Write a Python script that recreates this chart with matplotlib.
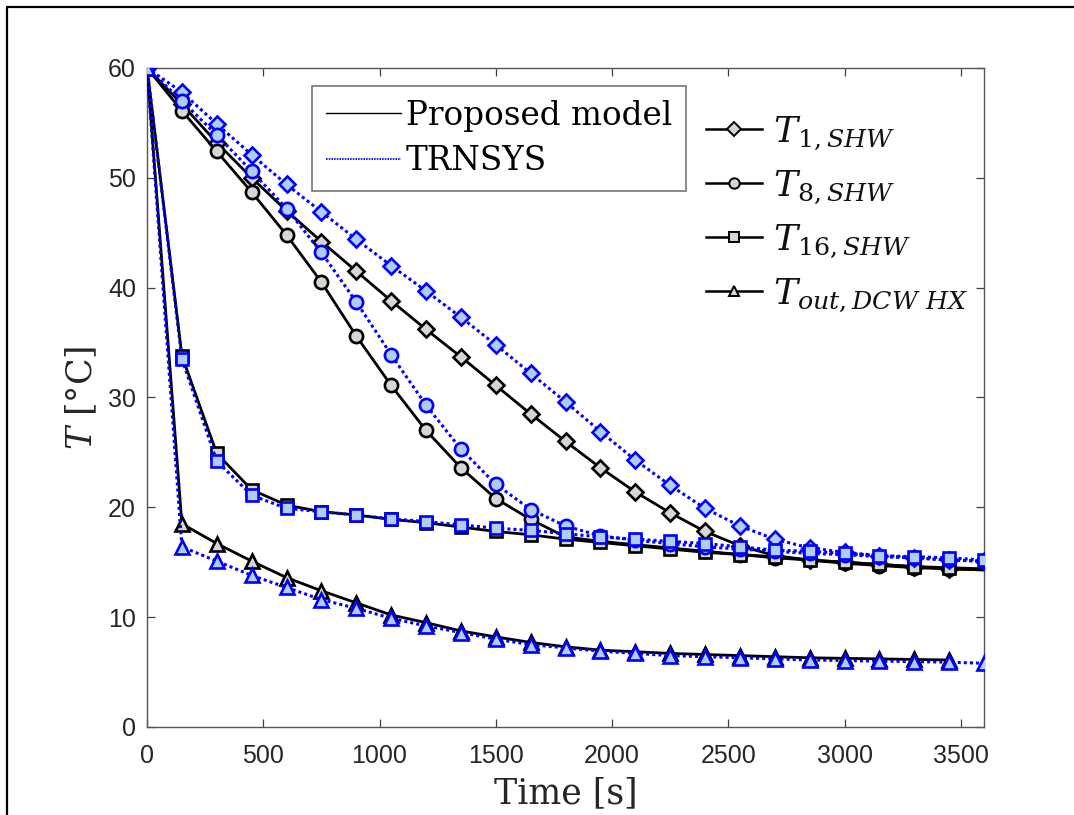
import numpy as np
import matplotlib
matplotlib.use("Agg")
import matplotlib.pyplot as plt
from matplotlib.lines import Line2D

plt.rcParams["mathtext.fontset"] = "custom"
plt.rcParams["mathtext.it"] = "DejaVu Serif:italic"
plt.rcParams["mathtext.rm"] = "DejaVu Serif"
plt.rcParams["mathtext.default"] = "it"

# Time axis [s]
time_s = np.arange(0, 3601, 150)

# Proposed model
t1_model = [60, 56.7, 53.2, 50.0, 47.0, 44.2, 41.5, 38.8, 36.2, 33.7, 31.1, 28.5, 26.0,
            23.6, 21.4, 19.5, 17.8, 16.5, 15.6, 15.2, 15.0, 14.8, 14.6, 14.4, 14.3]
t8_model = [60, 56.1, 52.4, 48.7, 44.8, 40.5, 35.6, 31.1, 27.0, 23.6, 20.8, 18.9, 17.3,
            16.9, 16.6, 16.3, 16.0, 15.7, 15.4, 15.2, 14.9, 14.7, 14.5, 14.4, 14.3]
t16_model = [60, 33.8, 24.9, 21.6, 20.2, 19.6, 19.3, 18.9, 18.6, 18.2, 17.8, 17.5, 17.1,
             16.8, 16.5, 16.2, 15.9, 15.7, 15.5, 15.2, 15.0, 14.8, 14.6, 14.5, 14.4]
tout_model = [60, 18.5, 16.7, 15.1, 13.6, 12.4, 11.3, 10.2, 9.5, 8.75, 8.2, 7.7, 7.3,
              7.0, 6.85, 6.7, 6.6, 6.5, 6.4, 6.3, 6.25, 6.2, 6.15, 6.1, np.nan]

# TRNSYS
t1_trnsys = [60, 57.8, 54.9, 52.1, 49.4, 46.9, 44.4, 42.0, 39.7, 37.3, 34.8, 32.2, 29.6,
             26.9, 24.3, 22.0, 19.9, 18.3, 17.1, 16.3, 15.9, 15.6, 15.4, 15.2, 15.1]
t8_trnsys = [60, 57.0, 53.9, 50.6, 47.2, 43.2, 38.7, 33.9, 29.3, 25.3, 22.1, 19.8, 18.3,
             17.4, 17.0, 16.7, 16.4, 16.2, 16.0, 15.8, 15.7, 15.5, 15.4, 15.2, 15.1]
t16_trnsys = [60, 33.5, 24.2, 21.1, 19.9, 19.6, 19.3, 18.95, 18.7, 18.4, 18.1, 17.9, 17.6,
              17.3, 17.1, 16.9, 16.7, 16.4, 16.1, 16.0, 15.8, 15.6, 15.5, 15.4, 15.2]
tout_trnsys = [60, 16.4, 15.1, 13.8, 12.7, 11.6, 10.8, 9.9, 9.2, 8.6, 8.0, 7.5, 7.2,
               6.9, 6.7, 6.5, 6.4, 6.3, 6.2, 6.1, 6.05, 6.0, 5.95, 5.9, 5.8]

series_labels = [r"$T_{1,SHW}$", r"$T_{8,SHW}$", r"$T_{16,SHW}$", r"$T_{out,DCW\ HX}$"]
markers = ["D", "o", "s", "^"]
marker_sizes = [8.5, 9.5, 8.0, 10.0]

GRAY_FILL = "#d6d6d6"
BLUE_FILL = "#b2ccf0"
BLUE = "#0000ff"

fig = plt.figure(figsize=(10.74, 8.15), dpi=100)
ax = fig.add_axes([0.1369, 0.108, 0.7793, 0.8086])

model_sets = [t1_model, t8_model, t16_model, tout_model]
trnsys_sets = [t1_trnsys, t8_trnsys, t16_trnsys, tout_trnsys]

for y, m, ms in zip(model_sets, markers, marker_sizes):
    ax.plot(time_s, y, color="black", lw=2.0, marker=m, ms=ms,
            mfc=GRAY_FILL, mec="black", mew=1.9, markevery=slice(0, 24), zorder=3)
for y, m, ms in zip(trnsys_sets, markers, marker_sizes):
    ax.plot(time_s, y, color=BLUE, lw=2.2, ls=(0, (1, 1.0)), marker=m, ms=ms,
            mfc=BLUE_FILL, mec=BLUE, mew=1.9, zorder=4)

ax.set_xlim(0, 3600)
ax.set_ylim(0, 60)
ax.set_xticks(np.arange(0, 3501, 500))
ax.set_yticks(np.arange(0, 61, 10))
ax.tick_params(direction="in", length=6, width=0.9, top=True, right=True,
               labelsize=18, colors="#404040", labelcolor="#262626")
ax.tick_params(axis="x", pad=12)
ax.tick_params(axis="y", pad=8)
for lab in ax.get_xticklabels() + ax.get_yticklabels():
    lab.set_family("Liberation Sans")
for sp in ax.spines.values():
    sp.set_color("#555555")
    sp.set_linewidth(1.0)

ax.set_xlabel("Time [s]", family="DejaVu Serif", fontsize=25, color="#262626", labelpad=6)
ax.set_ylabel(r"$T$ [°C]", family="DejaVu Serif", fontsize=25, color="#262626", labelpad=6)

# Model / reference legend
src_handles = [Line2D([], [], color="black", lw=1.0),
               Line2D([], [], color=BLUE, lw=1.2, ls=(0, (1, 0.6)))]
leg1 = fig.legend(src_handles, ["Proposed model", "TRNSYS"], loc="upper left",
                  bbox_to_anchor=(312 / 1074, 1 - 86 / 815), prop={"family": "DejaVu Serif", "size": 23.5},
                  frameon=True, fancybox=False, edgecolor="#555555", handlelength=2.3,
                  handletextpad=0.15, labelspacing=0.42, borderpad=0.42, borderaxespad=0)
leg1.get_frame().set_linewidth(1.2)
leg1.set_zorder(10)

# Variable legend
var_handles = [Line2D([], [], color="black", lw=1.8, marker=m, ms=7.5,
                      mfc=GRAY_FILL, mec="black", mew=1.4) for m in markers]
leg2 = fig.legend(var_handles, series_labels, loc="upper left",
                  bbox_to_anchor=(692 / 1074, 1 - 100 / 815), prop={"family": "DejaVu Serif", "size": 26},
                  frameon=False, handlelength=1.55, handletextpad=0.3, labelspacing=0.44,
                  borderaxespad=0)
for txt in leg2.get_texts():
    txt.set_color("#111111")

# Outer frame
fig.add_artist(Line2D([7 / 1074, 7 / 1074, 1.0], [0.0, 1 - 7 / 815, 1 - 7 / 815],
                      transform=fig.transFigure, color="black", lw=1.6))

fig.savefig("out.png", dpi=100)
